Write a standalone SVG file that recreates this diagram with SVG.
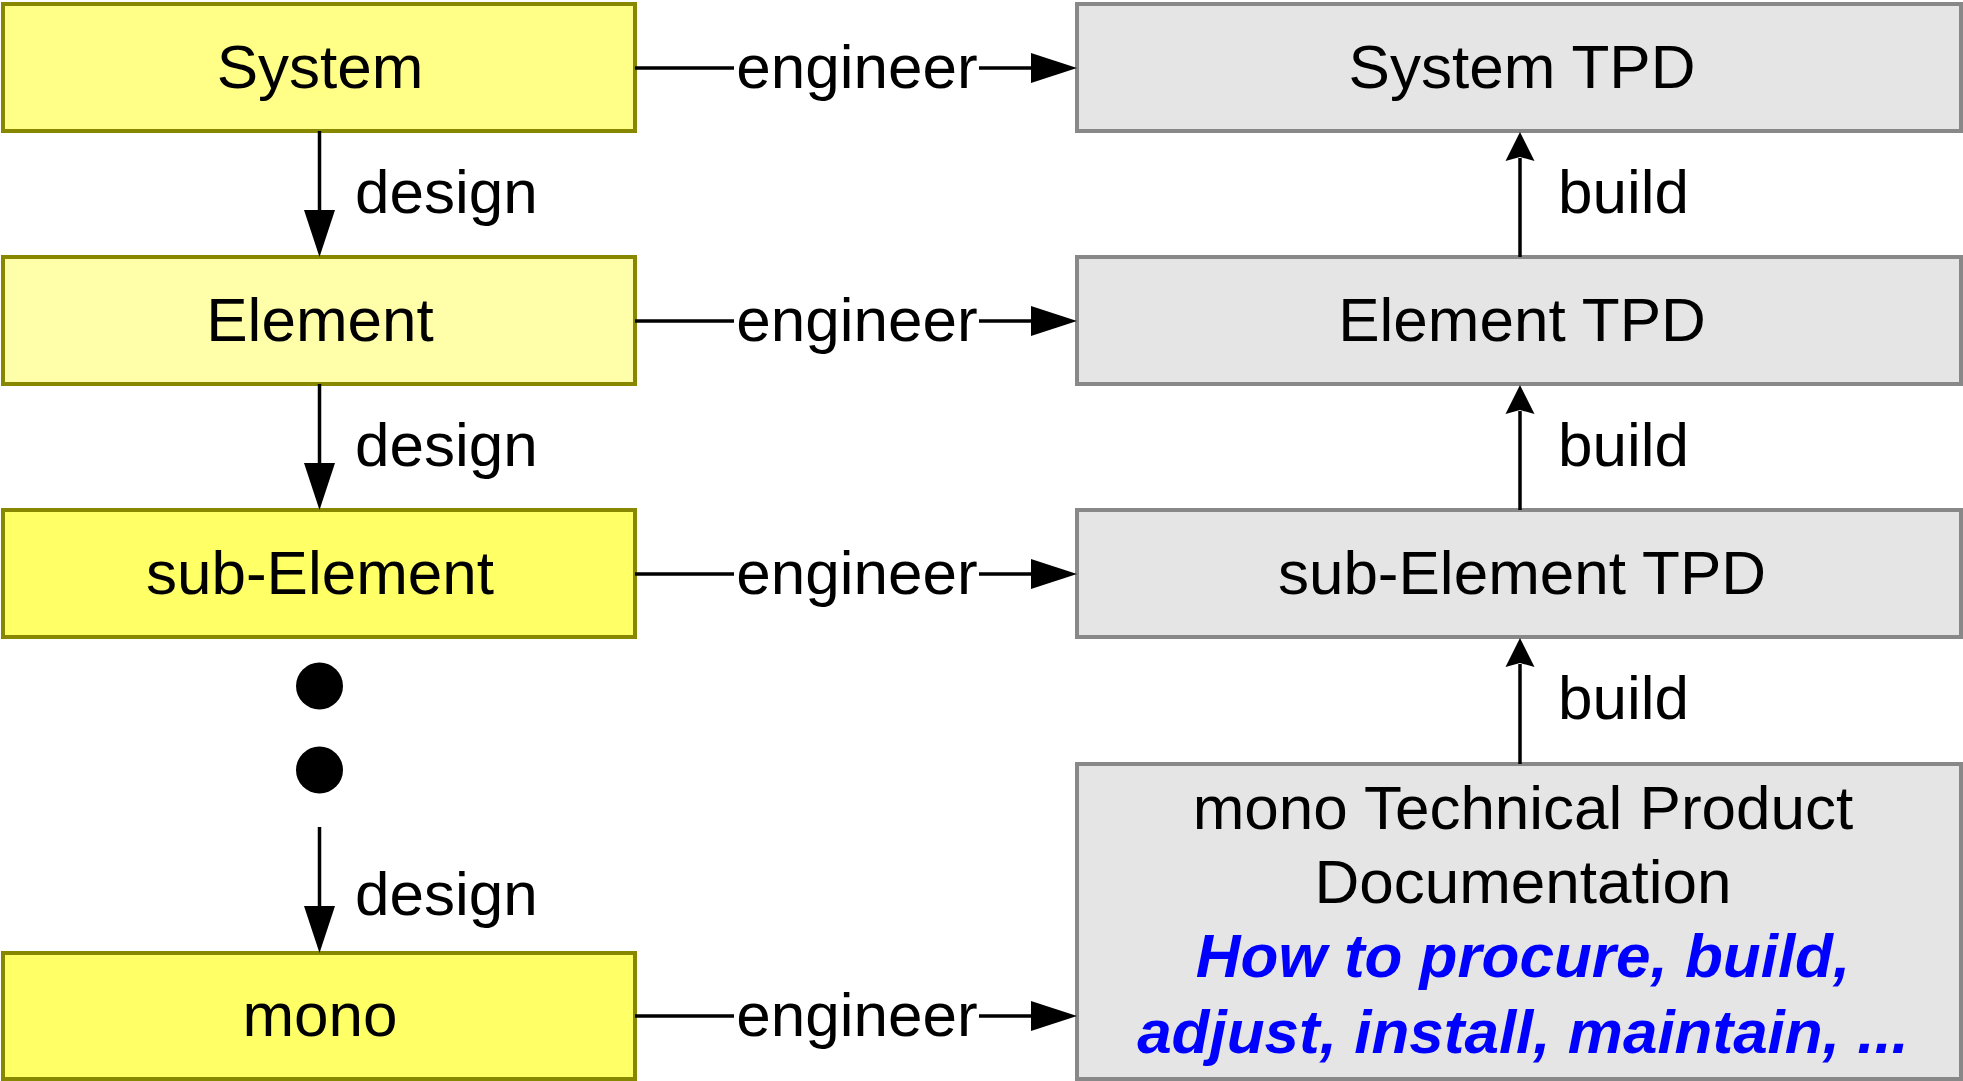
<svg xmlns="http://www.w3.org/2000/svg" width="1963" height="1081" viewBox="0 0 1963 1081">
<style>
.y{stroke:#888800;stroke-width:4}
.g{fill:#e5e5e5;stroke:#888888;stroke-width:4}
text{font-family:"Liberation Sans",Arial,sans-serif;font-size:62px;fill:#000}
.c{text-anchor:middle}
.ln{stroke:#000;stroke-width:3.5;fill:none}
.hd{fill:#000;stroke:none}
.blue{fill:#0000ff;font-weight:bold;font-style:italic}
</style>
<rect width="1963" height="1081" fill="#fff"/>
<g id="system">
<rect class="y" x="3" y="4" width="632" height="127" fill="#ffff88"/>
<text class="c" x="320" y="88">System</text>
</g>
<g id="element">
<rect class="y" x="3" y="257" width="632" height="127" fill="#ffffaa"/>
<text class="c" x="320" y="341">Element</text>
</g>
<g id="subelement">
<rect class="y" x="3" y="510" width="632" height="127" fill="#ffff66"/>
<text class="c" x="320" y="594">sub-Element</text>
</g>
<g id="mono">
<rect class="y" x="3" y="953" width="632" height="126" fill="#ffff66"/>
<text class="c" x="320" y="1036">mono</text>
</g>
<g id="system-tpd">
<rect class="g" x="1077" y="4" width="884" height="127"/>
<text class="c" x="1522" y="88">System TPD</text>
</g>
<g id="element-tpd">
<rect class="g" x="1077" y="257" width="884" height="127"/>
<text class="c" x="1522" y="341">Element TPD</text>
</g>
<g id="subelement-tpd">
<rect class="g" x="1077" y="510" width="884" height="127"/>
<text class="c" x="1522" y="594">sub-Element TPD</text>
</g>
<g id="mono-tpd">
<rect class="g" x="1077" y="764" width="884" height="315"/>
<text class="c" x="1523" y="829">mono Technical Product</text>
<text class="c" x="1523" y="903">Documentation</text>
<text class="c blue" x="1523" y="977">How to procure, build,</text>
<text class="c blue" x="1523" y="1053">adjust, install, maintain, ...</text>
</g>
<g id="ellipsis">
<circle cx="319.5" cy="686" r="23.5" fill="#000"/>
<circle cx="319.5" cy="770" r="23.5" fill="#000"/>
</g>
<g id="connectors">
<path class="ln" d="M635,68H734M979,68H1032"/>
<polygon class="hd" points="1031,53 1077,68 1031,83"/>
<text class="c" x="857" y="88">engineer</text>
<path class="ln" d="M635,321H734M979,321H1032"/>
<polygon class="hd" points="1031,306 1077,321 1031,336"/>
<text class="c" x="857" y="341">engineer</text>
<path class="ln" d="M635,574H734M979,574H1032"/>
<polygon class="hd" points="1031,559 1077,574 1031,589"/>
<text class="c" x="857" y="594">engineer</text>
<path class="ln" d="M635,1016H734M979,1016H1032"/>
<polygon class="hd" points="1031,1001 1077,1016 1031,1031"/>
<text class="c" x="857" y="1036">engineer</text>
<path class="ln" d="M319.5,131V212"/>
<polygon class="hd" points="304,210 335,210 319.5,257"/>
<text x="355" y="213">design</text>
<path class="ln" d="M319.5,384V465"/>
<polygon class="hd" points="304,463 335,463 319.5,510"/>
<text x="355" y="466">design</text>
<path class="ln" d="M319.5,827V908"/>
<polygon class="hd" points="304,906 335,906 319.5,953"/>
<text x="355" y="915">design</text>
<path class="ln" d="M1520,257V158"/>
<polygon class="hd" points="1520,132 1534.5,161 1520,157 1505.5,161"/>
<text x="1558" y="213">build</text>
<path class="ln" d="M1520,510V411"/>
<polygon class="hd" points="1520,385 1534.5,414 1520,410 1505.5,414"/>
<text x="1558" y="466">build</text>
<path class="ln" d="M1520,764V664"/>
<polygon class="hd" points="1520,638 1534.5,667 1520,663 1505.5,667"/>
<text x="1558" y="719">build</text>
</g>
</svg>
